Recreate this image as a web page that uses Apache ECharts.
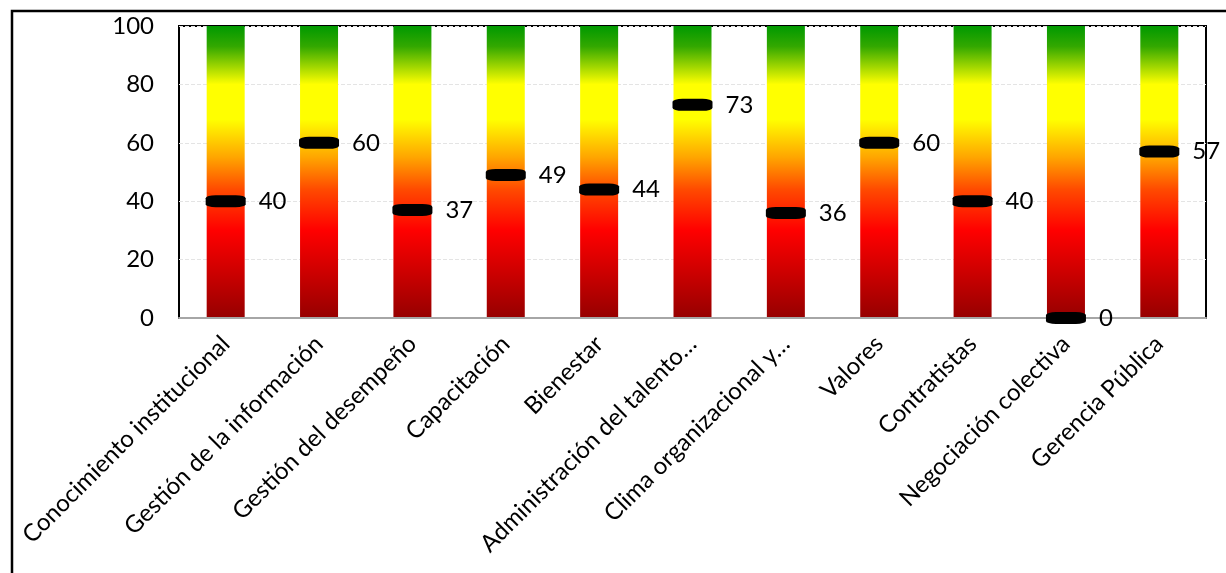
<!DOCTYPE html>
<html>
<head>
<meta charset="utf-8">
<script src="https://cdn.jsdelivr.net/npm/echarts@6/dist/echarts.min.js"></script>
<style>
html,body{margin:0;padding:0;background:#fff;}
#chart{width:1226px;height:573px;}
</style>
</head>
<body>
<div id="chart"></div>
<script>
const categories = ["Conocimiento institucional","Gestión de la información","Gestión del desempeño","Capacitación","Bienestar","Administración del talento…","Clima organizacional y…","Valores","Contratistas","Negociación colectiva","Gerencia Pública"];
const values = [40, 60, 37, 49, 44, 73, 36, 60, 40, 0, 57];
const scaleMax = [100, 100, 100, 100, 100, 100, 100, 100, 100, 100, 100];
const yTicks = [0, 20, 40, 60, 80, 100];

const FONT = 'Lato';
const chart = echarts.init(document.getElementById('chart'), null, {renderer:'canvas'});
const grad = new echarts.graphic.LinearGradient(0,0,0,1,[
  {offset:0, color:'#009900'},
  {offset:0.07, color:'#33a800'},
  {offset:0.2, color:'#ffff00'},
  {offset:0.32, color:'#ffff00'},
  {offset:0.45, color:'#ffa500'},
  {offset:0.56, color:'#ff4a00'},
  {offset:0.70, color:'#ff0000'},
  {offset:1, color:'#960000'}
]);
chart.setOption({
  animation:false,
  graphic:[{type:'rect', shape:{x:12,y:11,width:1240,height:600}, style:{fill:'none', stroke:'#000', lineWidth:2.5}, z:-1}],
  grid:{left:179, right:20, top:26, bottom:255, show:true, borderColor:'#000', borderWidth:2, backgroundColor:'transparent'},
  xAxis:{type:'category', data:categories,
    axisLine:{show:true, lineStyle:{color:'#a6a6a6', width:2}}, axisTick:{show:false},
    axisLabel:{interval:0, rotate:45, margin:22, fontFamily:FONT, fontSize:24, color:'#000'},
    z:5},
  yAxis:{type:'value', min:yTicks[0], max:yTicks[yTicks.length-1], interval:20,
    axisLine:{show:false}, axisTick:{show:false},
    axisLabel:{fontFamily:FONT, fontSize:24, color:'#000', margin:25},
    splitLine:{show:true, lineStyle:{color:'#e4e4e4', type:'dashed', width:1}}},
  series:[
    {type:'bar', data:scaleMax, barWidth:38, itemStyle:{color:grad}, silent:true, z:2},
    {type:'scatter', data:values, symbol:'roundRect', symbolSize:[40,12],
     itemStyle:{color:'#000', opacity:1}, z:10, clip:false,
     label:{show:true, position:'right', distance:13, fontFamily:FONT, fontSize:24, color:'#000'}}
  ]
});
</script>
</body>
</html>
